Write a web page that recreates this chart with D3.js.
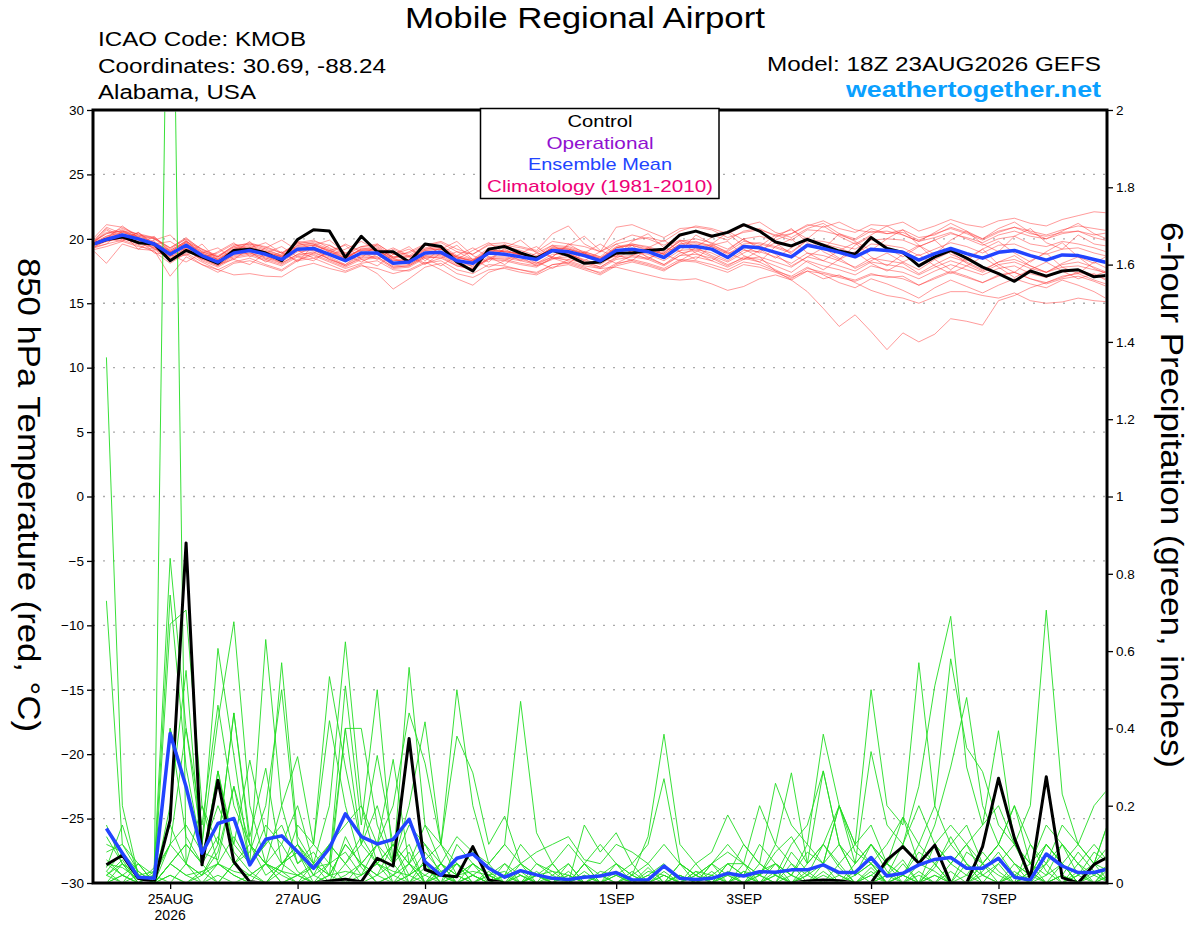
<!DOCTYPE html>
<meta charset="utf-8">
<head>
<style>
  body { margin: 0; background: #fff; }
  svg text { font-family: "Liberation Sans", Arial, Helvetica, sans-serif; }
</style>
</head>
<body>
<script src="https://d3js.org/d3.v7.min.js"></script>
<script>
// ---- data ----
var runStart = new Date(Date.UTC(2026, 7, 23, 18));   // 18Z 23AUG2026
var runEnd = new Date(Date.UTC(2026, 8, 8, 18));      // +384h
var dayTicks = ["2026-08-25", "2026-08-27", "2026-08-29", "2026-09-01", "2026-09-03", "2026-09-05", "2026-09-07"];
var dayLabels = ["25AUG", "27AUG", "29AUG", "1SEP", "3SEP", "5SEP", "7SEP"];
var tempTicks = [-30, -25, -20, -15, -10, -5, 0, 5, 10, 15, 20, 25, 30];
var precipTicks = [0, 0.2, 0.4, 0.6, 0.8, 1, 1.2, 1.4, 1.6, 1.8, 2];
var legendItems = ["Control", "Operational", "Ensemble Mean", "Climatology (1981-2010)"];

// 850 hPa temperature, every 6h from 0h (65 values)
var controlTemp = [19.5,19.95,20.15,19.7,19.6,18.3,19.1,18.6,18.1,19.1,
  19.2,18.9,18.3,19.95,20.7,20.6,18.55,20.2,19.0,19.0,
  18.2,19.6,19.4,18.2,17.5,19.2,19.4,18.9,18.5,19.1,
  18.7,18.1,18.2,18.9,18.9,19.1,19.2,20.3,20.6,20.2,
  20.5,21.1,20.6,19.75,19.45,19.95,19.5,19.05,18.8,20.1,
  19.25,18.95,17.9,18.6,19.1,18.5,17.8,17.3,16.7,17.5,
  17.1,17.5,17.6,17.05,17.2];
var meanTemp = [19.5,19.95,20.3,20.0,19.6,18.8,19.5,18.7,18.2,18.9,
  19.1,18.8,18.4,19.2,19.25,18.8,18.3,18.9,18.9,18.1,
  18.2,18.9,18.95,18.3,18.1,18.9,18.8,18.6,18.4,19.1,
  19.0,18.7,18.3,19.1,19.2,19.0,18.55,19.4,19.4,19.2,
  18.55,19.4,19.3,18.95,18.6,19.5,19.25,18.95,18.6,19.2,
  19.1,18.95,18.35,18.85,19.25,18.85,18.5,18.95,19.1,18.7,
  18.35,18.75,18.7,18.4,18.1];

var redM01 = [19.6,20.4,20.8,20.3,20.1,19.2,20.0,19.0,18.6,19.3,
  19.6,19.4,18.9,19.6,19.8,19.5,18.9,19.4,19.6,18.8,
  18.9,19.5,19.8,19.2,18.8,19.6,19.7,19.4,19.1,20.4,
  21.0,19.6,19.0,19.8,20.3,20.0,19.5,20.2,20.6,20.3,
  19.9,20.6,20.8,20.2,20.4,21.0,21.4,20.8,20.5,21.1,
  21.0,21.3,20.6,21.0,21.5,21.1,20.9,21.4,21.6,21.2,
  21.0,21.5,21.8,22.1,22.0];
var redM02 = [19.3,19.6,19.9,19.5,19.0,18.1,18.9,18.2,17.6,18.2,
  18.5,18.0,17.6,18.4,18.7,18.2,17.7,18.1,18.3,17.6,
  17.5,18.1,18.3,17.6,17.3,18.0,17.9,17.6,17.4,18.0,
  18.2,17.8,17.3,18.0,18.4,18.1,17.7,18.4,18.3,18.0,
  17.6,18.2,18.0,17.5,17.1,17.8,17.2,16.6,16.2,16.9,
  16.5,16.0,15.4,16.2,16.8,16.3,15.8,16.4,16.9,16.5,
  16.2,16.8,16.4,15.9,15.2];
var redM03 = [19.4,20.1,20.5,20.2,19.8,19.0,19.7,18.9,18.4,19.1,
  19.3,18.9,18.6,19.5,19.6,19.1,18.5,19.2,19.1,18.4,
  18.3,19.1,19.2,18.6,18.2,19.1,19.0,18.8,18.6,19.3,
  19.2,18.8,18.4,19.3,19.5,19.1,18.8,19.6,19.8,19.4,
  18.9,19.2,18.6,17.5,16.8,15.9,14.6,13.2,14.1,12.8,
  11.4,12.7,12.0,12.6,13.8,13.6,13.3,15.2,15.6,16.2,
  16.6,17.0,17.4,17.1,17.6];
var redM04 = [19.5,19.8,20.1,19.6,19.3,18.4,19.2,18.4,17.9,18.6,
  18.8,18.4,18.0,18.7,19.0,18.4,17.9,18.5,18.6,17.8,
  17.9,18.6,18.5,17.9,17.7,18.5,18.4,18.1,17.9,18.5,
  18.6,18.2,17.8,18.6,18.7,18.5,18.0,18.9,19.1,18.6,
  18.0,18.5,18.2,17.6,17.0,17.5,16.9,17.2,16.6,16.0,
  15.6,15.4,15.0,15.5,15.9,15.9,15.6,15.4,15.8,15.2,
  15.0,15.1,15.4,15.2,15.1];
var redM05 = [19.7,20.8,20.1,19.6,20.2,19.0,18.7,19.6,18.3,18.9,
  19.8,18.4,19.0,18.2,19.5,19.9,18.9,18.5,19.6,18.8,
  19.4,18.3,19.2,19.8,18.7,18.2,19.3,19.9,18.9,18.6,
  19.5,20.2,19.1,18.6,19.8,20.4,19.3,19.0,20.3,19.6,
  20.5,19.4,18.9,20.1,20.8,19.7,19.2,20.4,19.8,19.1,
  20.0,20.7,19.5,18.8,19.9,20.6,19.6,19.0,20.2,20.8,
  19.7,19.2,20.3,19.6,19.4];
var redM06 = [19.2,19.9,20.0,19.7,19.4,18.5,19.3,18.5,17.9,18.8,
  18.9,18.6,18.2,19.0,19.1,18.6,18.0,18.7,18.8,17.9,
  18.0,18.7,18.8,18.1,17.9,18.6,18.6,18.4,18.1,18.8,
  18.8,18.4,18.0,18.8,19.0,18.8,18.3,19.1,19.2,18.9,
  18.3,19.1,19.0,18.6,18.1,18.9,18.7,18.3,17.8,18.5,
  18.3,18.1,17.3,18.0,18.6,18.2,17.6,18.2,18.4,17.9,
  17.4,18.0,18.2,17.8,17.3];
var redM07 = [19.6,20.2,20.7,20.1,19.7,19.1,19.8,18.9,18.4,19.2,
  19.4,19.0,18.6,19.5,19.7,19.2,18.5,19.2,19.4,18.5,
  18.6,19.3,19.5,18.7,18.4,19.3,19.4,19.1,18.7,19.5,
  19.4,19.0,18.6,19.6,19.9,20.1,19.8,20.6,21.0,20.8,
  20.4,21.0,21.3,20.5,20.1,20.8,21.2,20.4,20.0,20.8,
  20.4,20.7,20.1,20.3,20.9,20.5,20.0,20.6,20.9,20.4,
  20.2,20.5,20.6,20.1,19.8];
var redM08 = [19.2,19.6,20.6,20.0,18.9,18.8,18.2,18.9,19.3,18.4,
  18.0,18.9,19.4,18.6,18.3,19.1,19.5,18.4,17.9,18.8,
  19.2,18.5,17.9,18.7,19.3,18.6,18.0,18.9,19.4,18.5,
  18.1,18.9,19.6,18.8,18.3,19.3,19.9,19.0,18.4,19.5,
  19.8,18.7,18.2,19.4,20.0,18.9,18.3,19.1,19.7,18.6,
  17.9,18.8,19.5,18.4,17.6,18.5,19.2,18.0,17.4,18.3,
  18.9,17.8,17.3,18.2,17.6];
var redM09 = [19.8,21.1,20.9,20.3,20.0,19.3,20.1,19.1,18.6,19.5,
  19.6,19.2,18.7,19.8,19.6,19.0,18.4,19.3,19.2,18.3,
  18.4,19.2,19.4,18.6,18.3,19.2,19.0,18.9,18.5,19.4,
  19.3,18.9,18.5,19.4,19.6,19.3,18.9,19.9,19.7,19.5,
  19.0,19.8,19.6,19.3,18.9,19.9,19.6,19.3,18.8,19.6,
  19.5,19.3,18.7,19.2,19.7,19.4,18.9,19.5,19.6,19.1,
  18.8,19.2,19.3,18.9,18.6];
var redM10 = [19.3,18.1,19.6,19.2,19.1,17.1,18.6,18.0,17.4,18.1,
  18.3,17.9,17.5,18.3,18.5,18.0,17.5,18.0,17.3,16.1,
  16.9,17.8,18.1,17.3,17.0,17.6,17.7,17.4,17.2,17.8,
  18.0,17.6,17.2,17.9,18.2,17.9,17.5,18.3,18.2,17.8,
  17.4,18.0,17.8,17.4,16.9,17.7,17.4,17.1,16.8,17.3,
  17.0,17.1,16.4,17.0,17.5,17.1,16.6,17.2,17.4,16.9,
  16.6,17.1,17.3,16.8,16.4];
var redM11 = [19.5,20.9,20.4,19.2,19.9,20.3,19.1,18.4,19.0,19.7,
  18.6,19.3,19.9,19.1,18.5,18.9,19.6,19.0,18.4,19.2,
  18.6,18.0,18.9,19.5,18.4,18.8,19.6,18.7,18.1,18.6,
  19.6,18.9,18.2,18.7,19.5,18.5,18.9,19.8,18.9,18.3,
  19.1,20.0,19.2,18.5,19.3,20.1,19.0,18.4,19.5,20.2,
  19.3,18.6,19.4,19.9,18.8,18.3,19.2,19.8,18.9,18.2,
  19.0,19.7,18.6,18.1,18.8];
var redM12 = [19.6,20.5,20.6,20.2,20.0,19.1,19.8,19.0,18.5,19.2,
  19.5,19.1,18.7,19.3,19.5,19.1,18.7,19.1,19.2,18.6,
  18.6,19.2,19.3,18.6,18.3,19.0,19.1,18.8,18.6,19.3,
  19.2,18.9,18.4,19.3,19.6,19.4,19.0,19.8,20.0,19.7,
  19.2,20.0,20.2,19.9,20.4,21.1,20.9,21.3,20.7,20.5,
  20.6,20.3,19.8,20.1,20.5,20.0,19.5,20.0,20.2,19.6,
  19.4,19.8,19.6,19.3,18.9];
var redM13 = [19.3,19.8,20.1,19.8,19.3,18.4,19.2,18.3,17.8,18.5,
  18.7,18.3,17.9,18.6,18.8,18.3,17.8,18.4,18.5,17.7,
  17.8,18.5,18.6,17.9,17.6,18.4,18.3,18.0,17.8,18.5,
  18.4,18.1,17.7,18.4,18.6,18.4,17.9,18.7,18.8,18.5,
  17.9,18.6,18.4,17.9,17.4,18.3,17.9,17.6,17.2,17.9,
  17.6,17.4,16.9,17.5,18.0,17.6,17.2,17.7,17.9,17.3,
  17.0,17.5,17.6,17.2,16.8];
var redM14 = [19.5,20.2,20.5,20.1,19.7,19.0,19.7,18.8,18.4,19.1,
  19.3,19.0,18.6,19.4,19.5,19.0,18.5,19.1,19.1,18.3,
  18.4,19.1,19.2,18.5,18.3,19.1,19.0,18.8,18.5,19.2,
  19.2,18.8,18.5,19.3,19.5,19.2,18.8,19.6,19.6,19.4,
  18.8,19.6,19.7,19.4,19.0,19.9,19.8,19.5,19.2,19.9,
  20.0,19.9,19.4,19.9,20.4,20.1,19.7,20.3,20.6,20.2,
  20.0,20.4,20.6,20.3,20.5];
var redM15 = [19.1,19.4,19.8,20.5,19.4,18.6,19.8,19.2,18.6,19.4,
  19.0,18.2,18.8,19.7,19.2,18.4,18.0,18.9,19.3,18.5,
  18.0,18.7,19.3,18.5,17.8,18.4,19.2,18.6,17.9,18.4,
  18.9,18.3,17.8,18.5,19.1,18.6,18.0,18.7,19.3,18.7,
  18.2,18.9,19.5,18.8,17.9,18.6,19.3,18.5,17.7,18.3,
  18.9,18.2,17.6,18.4,19.0,18.1,17.5,18.2,18.7,17.9,
  17.4,18.1,18.6,17.7,17.2];
var redM16 = [19.6,20.0,19.8,19.4,19.2,18.3,18.8,18.0,17.6,17.2,
  17.3,17.1,17.05,17.8,18.1,17.7,17.4,17.9,17.7,17.3,
  17.6,18.2,17.6,16.9,16.4,17.4,17.8,17.6,17.3,18.0,
  18.1,17.7,17.4,18.1,18.3,18.0,17.6,18.2,18.6,18.3,
  17.8,18.4,18.6,18.2,17.8,18.6,18.3,17.9,17.5,18.2,
  18.0,17.8,17.2,17.8,18.3,17.9,17.4,18.0,18.2,17.7,
  17.4,17.8,17.9,17.6,17.3];
var redM17 = [19.5,20.1,20.3,19.9,19.5,18.6,19.3,18.5,18.0,18.7,
  18.9,18.5,18.1,18.8,18.9,18.5,17.9,18.6,18.6,17.8,
  17.9,18.6,18.7,18.0,17.7,18.5,18.5,18.3,18.0,18.6,
  18.3,17.9,17.7,17.8,17.5,17.2,16.9,16.8,16.9,16.5,
  16.0,16.3,16.9,17.2,16.8,17.5,17.3,17.0,16.7,17.2,
  17.1,16.9,16.4,16.9,17.4,17.0,16.6,17.1,17.4,16.9,
  16.5,16.9,17.1,16.7,16.2];
var redM18 = [19.7,20.4,20.6,20.4,20.1,19.3,20.0,19.2,18.7,19.4,
  19.7,19.3,18.9,19.7,19.9,19.3,18.7,19.4,19.5,18.6,
  18.7,19.5,19.7,19.0,18.8,19.5,19.5,19.3,19.0,19.8,
  19.6,19.4,19.0,20.9,21.1,20.6,20.1,20.8,20.9,20.7,
  20.1,20.5,20.7,20.3,19.9,20.7,20.6,20.3,19.9,20.6,
  20.4,20.5,19.9,20.4,20.8,20.4,19.9,20.5,20.9,20.6,
  20.3,20.7,21.0,20.8,20.6];
var redM19 = [19.4,20.7,19.9,20.5,19.6,19.8,19.0,18.6,18.9,19.6,
  19.2,18.7,18.1,18.8,19.4,18.7,19.2,19.8,19.1,18.5,
  19.0,19.6,18.8,18.4,19.1,19.7,18.9,18.3,18.9,19.5,
  18.8,18.3,19.0,19.6,18.9,18.4,19.3,19.9,19.4,20.1,
  20.6,19.9,19.4,20.3,20.7,20.0,21.0,20.2,19.6,20.3,
  21.0,20.3,19.8,20.5,21.2,20.6,20.0,20.8,21.3,20.5,
  20.0,20.6,21.2,20.4,19.9];
var redM20 = [19.6,20.0,21.0,20.1,19.2,18.9,19.9,18.7,18.0,18.4,
  19.3,19.7,18.9,18.3,18.9,19.5,18.8,18.2,18.8,19.3,
  18.7,18.1,18.5,19.0,18.4,17.8,18.3,18.9,18.2,17.7,
  18.4,19.0,18.6,18.1,18.7,19.3,18.8,18.3,19.0,19.6,
  18.9,18.4,19.1,19.7,18.8,18.2,17.6,18.4,19.0,18.1,
  17.5,18.2,18.8,17.9,17.3,17.9,18.6,17.8,17.0,17.6,
  18.2,17.5,16.9,17.3,16.6];
var tempMembers = [redM01, redM02, redM03, redM04, redM05, redM06, redM07, redM08, redM09, redM10,
  redM11, redM12, redM13, redM14, redM15, redM16, redM17, redM18, redM19, redM20];

// 6-hour precipitation (inches), every 6h from 6h (64 values)
var controlPrecip = [0.047,0.072,0.012,0.003,0.163,0.88,0.047,0.266,
  0.055,0.003,0,0,0,0,0.005,0.01,
  0.003,0.064,0.044,0.374,0.035,0.02,0.016,0.094,
  0.008,0,0,0,0,0,0,0,
  0,0,0,0,0,0,0,0,
  0,0,0,0,0.005,0.008,0.006,0,
  0,0.06,0.094,0.051,0.098,0,0,0.094,
  0.271,0.116,0.012,0.275,0.014,0,0.048,0.07];
var meanPrecip = [0.141,0.077,0.015,0.012,0.387,0.249,0.077,0.154,
  0.167,0.047,0.113,0.122,0.081,0.038,0.09,0.179,
  0.12,0.101,0.113,0.165,0.055,0.02,0.064,0.075,
  0.038,0.015,0.032,0.021,0.012,0.009,0.015,0.018,
  0.027,0.008,0.008,0.044,0.012,0.009,0.012,0.025,
  0.018,0.029,0.028,0.034,0.034,0.047,0.027,0.027,
  0.066,0.018,0.025,0.047,0.061,0.066,0.038,0.038,
  0.064,0.015,0.008,0.075,0.044,0.027,0.027,0.038];

var grnM01 = [1.36,0.2,0.02,0,0.4,0.12,0.05,0.29, 0.08,0.03,0,0.05,0.1,0.02,0,0.12,
  0.04,0,0.02,0.08,0,0.03,0.05,0, 0,0.02,0,0,0.01,0,0.03,0,
  0,0.01,0,0,0.02,0,0,0.05, 0.02,0,0,0.08,0.03,0,0.02,0,
  0.04,0,0.02,0.1,0.05,0,0,0.03, 0.08,0.02,0,0.05,0,0.02,0,0.04];
var grnM02 = [0.73,0.1,0.05,0.02,0.745,0.3,0.08,0.06, 0.25,0.1,0.05,0,0.02,0.04,0.1,0.05,
  0.12,0.05,0.02,0,0.06,0.1,0.02,0, 0.03,0,0.05,0.02,0,0,0,0.02,
  0.05,0,0,0.02,0,0,0.02,0, 0,0.03,0.05,0,0.02,0.1,0.04,0,
  0,0.02,0.06,0,0.1,0.05,0.02,0.08, 0.03,0,0.02,0.1,0.05,0,0.03,0];
var grnM03 = [0.05,0.04,0.01,0.02,3.0,0.05,0.02,0.1, 0.44,0.12,0.297,0.05,0.08,0,0.02,0.4,
  0.1,0.05,0,0.02,0.08,0.03,0,0.02, 0,0,0.02,0,0,0.03,0,0,
  0,0,0.04,0,0,0.02,0,0, 0.03,0,0,0.02,0,0,0,0.05,
  0.1,0.03,0,0,0.04,0.12,0.05,0, 0,0.02,0.05,0,0.02,0.08,0.03,0];
var grnM04 = [0.02,0.06,0,0.04,0.84,0.4,0.1,0.42, 0.676,0.2,0.05,0.1,0.03,0,0.05,0.08,
  0.02,0.1,0.32,0.05,0,0.02,0,0.05, 0.02,0,0,0.05,0.03,0,0,0,
  0,0.02,0,0,0,0.03,0,0, 0,0,0.02,0,0.05,0.29,0.1,0.02,
  0.05,0,0.02,0,0,0.05,0.1,0.02, 0,0,0.1,0.03,0,0,0.05,0.1];
var grnM05 = [0.1,0.08,0.03,0,0.67,0.706,0.2,0.05, 0.12,0.05,0.63,0.2,0.05,0.08,0.02,0.1,
  0.05,0.02,0.1,0,0.04,0,0.05,0.02, 0,0.05,0.02,0,0,0,0.05,0.02,
  0,0,0,0.03,0,0,0,0.02, 0,0.05,0.02,0,0,0.03,0,0,
  0,0.02,0,0.05,0.03,0,0.08,0.05, 0.02,0,0,0.02,0.05,0,0,0.02];
var grnM06 = [0.04,0.15,0.02,0,0.4,0.25,0.1,0.607, 0.33,0.05,0.1,0.57,0.12,0.05,0.2,0.624,
  0.2,0.05,0.1,0.05,0.02,0,0.1,0.05, 0.02,0,0,0.03,0,0.05,0,0,
  0.02,0,0,0,0,0.05,0,0.03, 0,0,0.05,0.02,0,0,0.05,0,
  0.02,0,0,0.03,0,0,0,0.05, 0.1,0.05,0,0,0.02,0,0.05,0.03];
var grnM07 = [0,0.05,0,0.03,0.1,0.4,0.15,0.46, 0.2,0.1,0.05,0.03,0.15,0.1,0.534,0.3,
  0.1,0.2,0.05,0.558,0.15,0.05,0,0.02, 0.05,0,0.02,0,0,0.02,0,0,
  0,0,0.02,0,0.05,0,0,0, 0.02,0,0,0.05,0,0.02,0,0.03,
  0,0.05,0.02,0,0,0.03,0,0, 0.05,0,0.03,0,0,0.05,0.02,0];
var grnM08 = [0.06,0.02,0.05,0,0.2,0.55,0.05,0.12, 0.05,0.08,0.2,0.5,0.1,0.04,0.05,0.51,
  0.15,0.5,0.05,0.1,0,0.05,0.02,0, 0,0.02,0,0,0.05,0,0,0,
  0.03,0,0,0,0,0,0.03,0, 0,0.02,0,0,0.03,0.05,0,0,
  0,0,0.05,0,0.02,0,0,0.05, 0,0.03,0,0,0.05,0,0,0];
var grnM09 = [0.12,0.05,0.02,0.03,0.15,0.05,0.2,0.1, 0.44,0.1,0.05,0.2,0.327,0.1,0.05,0.4,
  0.4,0.15,0.05,0.2,0.417,0.1,0.05,0, 0.02,0,0,0.02,0,0,0.05,0,
  0,0.03,0,0,0,0.02,0,0, 0.05,0,0.02,0,0,0,0,0.02,
  0.05,0,0,0.02,0,0,0.05,0, 0,0.05,0.02,0,0,0.03,0,0];
var grnM10 = [0.02,0,0.05,0,0.05,0.1,0.05,0.29, 0.1,0.318,0.12,0.05,0.08,0.02,0.1,0.05,
  0.1,0.33,0.1,0.05,0.15,0.1,0.5,0.2, 0.05,0.1,0.47,0.13,0.05,0,0.02,0,
  0,0,0,0.02,0,0,0,0.02, 0,0,0.03,0,0.02,0,0,0,
  0.03,0,0.02,0,0.05,0,0.02,0, 0,0,0.03,0,0.02,0,0,0.05];
var grnM11 = [0.05,0.02,0,0.02,0.1,0.05,0.02,0.08, 0.25,0.05,0.1,0.15,0.05,0.1,0.42,0.2,
  0.05,0.1,0.2,0.44,0.31,0.1,0.38,0.285, 0.1,0.173,0.05,0.02,0,0,0.15,0.08,
  0.13,0.05,0,0,0.02,0,0.05,0, 0,0.02,0,0,0,0.05,0.02,0,
  0.02,0.05,0,0,0.02,0,0,0.02, 0,0.02,0,0,0,0.02,0.05,0];
var grnM12 = [0,0.02,0,0,0.05,0.02,0,0.05, 0.02,0,0.05,0.02,0,0.05,0.02,0.1,
  0.05,0.02,0,0.05,0.1,0.02,0.05,0.02, 0,0.02,0.1,0.05,0.02,0,0.05,0.1,
  0.05,0.02,0.12,0.385,0.1,0.05,0.08,0.176, 0.1,0.05,0.258,0.15,0.1,0.385,0.2,0.1,
  0.05,0.02,0.1,0.05,0.1,0.15,0.1,0.05, 0.1,0.05,0.02,0.1,0.05,0,0.02,0.05];
var grnM13 = [0.03,0,0.02,0,0.02,0,0.03,0, 0.05,0.02,0,0.03,0,0.02,0.05,0,
  0.02,0.05,0.1,0.02,0.05,0,0.02,0.05, 0.02,0.05,0,0.02,0.05,0.1,0.05,0,
  0.02,0.05,0.1,0.27,0.05,0.02,0.05,0.1, 0.05,0.2,0.1,0.285,0.05,0.1,0.2,0.1,
  0.5,0.2,0.15,0.57,0.2,0.1,0.15,0.05, 0.1,0.2,0.05,0.02,0.1,0.05,0,0.02];
var grnM14 = [0.02,0.05,0,0.02,0,0.05,0,0.02, 0,0.02,0.05,0,0.02,0,0,0.05,
  0,0.02,0.05,0,0.02,0.05,0,0.02, 0,0,0.03,0,0.02,0.05,0,0.02,
  0,0.02,0.05,0,0.02,0,0.05,0.02, 0.1,0.05,0.02,0.1,0.15,0.29,0.1,0.05,
  0.34,0.15,0.1,0.25,0.51,0.69,0.3,0.15, 0.394,0.1,0.05,0.15,0.1,0.05,0.1,0.05];
var grnM15 = [0,0.02,0,0,0.02,0,0.02,0.05, 0.02,0,0,0.05,0.02,0,0.02,0,
  0.05,0,0.02,0.05,0,0.02,0,0, 0.02,0,0,0.02,0,0,0.02,0,
  0.05,0.02,0,0,0.05,0.02,0,0.05, 0.02,0.1,0.05,0.02,0.08,0.05,0.1,0.02,
  0.1,0.05,0.17,0.1,0.2,0.58,0.35,0.288, 0.15,0.1,0.2,0.706,0.23,0.1,0.05,0.17];
var grnM16 = [0.08,0.1,0.03,0,0.05,0.1,0.05,0, 0.05,0.1,0.02,0.05,0.1,0.05,0,0.02,
  0.05,0.1,0,0.02,0.05,0,0.02,0.05, 0,0.02,0.05,0,0,0.02,0,0,
  0,0,0.02,0.05,0,0,0.02,0.05, 0.05,0.02,0.1,0.05,0.02,0.05,0.2,0.08,
  0.05,0.1,0.17,0.05,0.15,0.3,0.48,0.2, 0.1,0.2,0.1,0.05,0.15,0.1,0.2,0.25];
var grnM17 = [0.15,0.05,0.02,0,0.1,0.15,0.08,0.2, 0.1,0.05,0.15,0.1,0.2,0.05,0.1,0.15,
  0.2,0.1,0.05,0.15,0.1,0.05,0.12,0.08, 0.05,0.1,0.05,0.08,0.1,0.12,0.06,0.05,
  0.1,0.08,0.05,0.1,0.05,0.02,0.05,0.08, 0.05,0.02,0.08,0.12,0.05,0.1,0.05,0.1,
  0.15,0.05,0.1,0.2,0.1,0.05,0.1,0.15, 0.2,0.1,0.05,0.1,0.05,0.1,0.05,0.17];
var grnM18 = [0.03,0.08,0.02,0,0.05,0.02,0.03,0.05, 0.03,0.02,0.05,0.03,0.02,0.05,0.02,0.03,
  0.02,0.05,0.03,0.02,0,0.05,0.02,0.03, 0.02,0.03,0,0.02,0.03,0.02,0,0.03,
  0.02,0,0.03,0.02,0,0.03,0.02,0, 0.03,0.02,0.05,0.02,0.1,0.05,0.2,0.05,
  0.1,0.05,0.02,0.08,0.05,0.1,0.05,0.02, 0.05,0.1,0.02,0.05,0.1,0.02,0.08,0.05];
var precipMembers = [grnM01, grnM02, grnM03, grnM04, grnM05, grnM06, grnM07, grnM08, grnM09,
  grnM10, grnM11, grnM12, grnM13, grnM14, grnM15, grnM16, grnM17, grnM18];

// ---- layout ----
var W = 1200, H = 927;
var plot = {left: 93, right: 1107, top: 110, bottom: 883};

var svg = d3.select("body").append("svg")
  .attr("width", W)
  .attr("height", H);

var x = d3.scaleUtc().domain([runStart, runEnd]).range([90.5, 1110]);
var yT = d3.scaleLinear().domain([-30, 30]).range([plot.bottom, plot.top]);
var yP = d3.scaleLinear().domain([0, 2]).range([plot.bottom, plot.top]);

function stepTime(i) {
  return new Date(runStart.getTime() + i * 6 * 3600 * 1000);
}

// the chart font is wider than Liberation Sans: stretch to the measured widths
function wide(sel, w) {
  return sel.attr("textLength", w).attr("lengthAdjust", "spacingAndGlyphs");
}

svg.append("clipPath").attr("id", "plotclip")
  .append("rect")
  .attr("x", plot.left + 1.5).attr("y", plot.top + 1.5)
  .attr("width", plot.right - plot.left - 3).attr("height", plot.bottom - plot.top - 3);

// dotted grid on the temperature ticks
svg.append("g").selectAll("line")
  .data(tempTicks.slice(1, -1))
  .join("line")
  .attr("x1", plot.left).attr("x2", plot.right)
  .attr("y1", d => yT(d)).attr("y2", d => yT(d))
  .attr("stroke", "#aaa")
  .attr("stroke-width", 1.4)
  .attr("stroke-dasharray", "2,8");

var lines = svg.append("g").attr("clip-path", "url(#plotclip)");

var tempLine = d3.line()
  .x((d, i) => x(stepTime(i)))
  .y(d => yT(d));
var precipLine = d3.line()
  .x((d, i) => x(stepTime(i + 1)))
  .y(d => yP(d));

lines.append("g").selectAll("path")
  .data(tempMembers)
  .join("path")
  .attr("d", tempLine)
  .attr("fill", "none")
  .attr("stroke", "#ff3333")
  .attr("stroke-opacity", 0.55)
  .attr("stroke-width", 0.9);

lines.append("g").selectAll("path")
  .data(precipMembers)
  .join("path")
  .attr("d", precipLine)
  .attr("fill", "none")
  .attr("stroke", "#22dd22")
  .attr("stroke-width", 0.9);

function bold(data, line, colour, w) {
  lines.append("path")
    .datum(data)
    .attr("d", line)
    .attr("fill", "none")
    .attr("stroke", colour)
    .attr("stroke-width", w)
    .attr("stroke-linejoin", "round");
}
bold(controlPrecip, precipLine, "#000", 3);
bold(meanPrecip, precipLine, "#2244ff", 3.5);
bold(controlTemp, tempLine, "#000", 3);
bold(meanTemp, tempLine, "#2244ff", 3.5);

// ---- axes ----
function styleAxis(g, size) {
  g.select(".domain").remove();
  g.selectAll(".tick line").attr("stroke", "#000").attr("stroke-width", 1.3);
  g.selectAll(".tick text")
    .attr("fill", "#000")
    .style("font-family", '"Liberation Sans", Arial, sans-serif')
    .style("font-size", size + "px");
}

var gLeft = svg.append("g")
  .attr("transform", "translate(" + plot.left + ",0)")
  .call(d3.axisLeft(yT).tickValues(tempTicks).tickSize(6).tickPadding(3));
styleAxis(gLeft, 13.5);

var gRight = svg.append("g")
  .attr("transform", "translate(" + plot.right + ",0)")
  .call(d3.axisRight(yP).tickValues(precipTicks).tickSize(6).tickPadding(3)
    .tickFormat(d => String(+d.toFixed(1))));
styleAxis(gRight, 13.5);

var parseDay = d3.utcParse("%Y-%m-%d");
var dayDates = dayTicks.map(parseDay);
var gBottom = svg.append("g")
  .attr("transform", "translate(0," + plot.bottom + ")")
  .call(d3.axisBottom(x).tickValues(dayDates).tickSize(6).tickPadding(5)
    .tickFormat((d, i) => dayLabels[i]));
styleAxis(gBottom, 14);
gBottom.append("text")
  .attr("x", x(dayDates[0]))
  .attr("y", 37)
  .attr("text-anchor", "middle")
  .attr("fill", "#000")
  .style("font-size", "14px")
  .text("2026");

// frame
svg.append("rect")
  .attr("x", plot.left).attr("y", plot.top)
  .attr("width", plot.right - plot.left).attr("height", plot.bottom - plot.top)
  .attr("fill", "none")
  .attr("stroke", "#000")
  .attr("stroke-width", 3);

// axis titles
wide(svg.append("text")
  .attr("transform", "translate(18,495) rotate(90)")
  .attr("text-anchor", "middle")
  .style("font-size", "32px")
  .text("850 hPa Temperature (red, °C)"), 474);
wide(svg.append("text")
  .attr("transform", "translate(1161,495) rotate(90)")
  .attr("text-anchor", "middle")
  .style("font-size", "32px")
  .text("6-hour Precipitation (green, inches)"), 546);

// ---- header ----
wide(svg.append("text")
  .attr("x", 585).attr("y", 28)
  .attr("text-anchor", "middle")
  .style("font-size", "29px")
  .text("Mobile Regional Airport"), 360);

var info = ["ICAO Code: KMOB", "Coordinates: 30.69, -88.24", "Alabama, USA"];
var infoWidths = [208, 288, 158];
svg.append("g").selectAll("text")
  .data(info)
  .join("text")
  .attr("x", 98)
  .attr("y", (d, i) => 46 + i * 26.6)
  .attr("textLength", (d, i) => infoWidths[i])
  .attr("lengthAdjust", "spacingAndGlyphs")
  .style("font-size", "20px")
  .text(d => d);

wide(svg.append("text")
  .attr("x", 1101).attr("y", 71)
  .attr("text-anchor", "end")
  .style("font-size", "20px")
  .text("Model: 18Z 23AUG2026 GEFS"), 334);
wide(svg.append("text")
  .attr("x", 1101).attr("y", 97)
  .attr("text-anchor", "end")
  .attr("fill", "#0aa0ff")
  .style("font-size", "22px")
  .style("font-weight", "bold")
  .text("weathertogether.net"), 255);

// legend
var legendColours = ["#000", "#9010d0", "#2244ff", "#ee0077"];
var legendWidths = [65, 107, 144, 226];
var legend = svg.append("g");
legend.append("rect")
  .attr("x", 480.5).attr("y", 108.5)
  .attr("width", 238.5).attr("height", 90)
  .attr("fill", "#fff")
  .attr("stroke", "#000")
  .attr("stroke-width", 1.5);
legend.selectAll("text")
  .data(legendItems)
  .join("text")
  .attr("x", 600)
  .attr("y", (d, i) => 127 + i * 21.6)
  .attr("text-anchor", "middle")
  .attr("textLength", (d, i) => legendWidths[i])
  .attr("lengthAdjust", "spacingAndGlyphs")
  .attr("fill", (d, i) => legendColours[i])
  .style("font-size", "17px")
  .text(d => d);
</script>
</body>
